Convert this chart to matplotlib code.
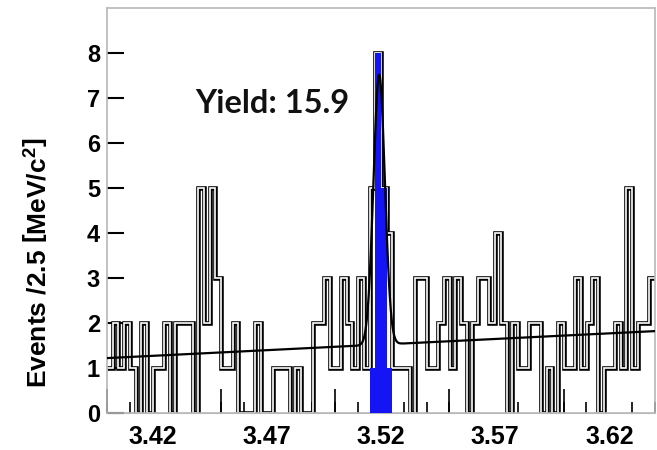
import numpy as np
import matplotlib
matplotlib.use("Agg")
import matplotlib.pyplot as plt

plt.rcParams['font.family'] = ['Liberation Sans', 'DejaVu Sans']
plt.rcParams['font.weight'] = 'bold'
plt.rcParams['mathtext.fontset'] = 'custom'
plt.rcParams['mathtext.rm'] = 'Liberation Sans:bold'
plt.rcParams['mathtext.it'] = 'Liberation Sans:bold'
plt.rcParams['mathtext.bf'] = 'Liberation Sans:bold'

# histogram: 2.5 MeV bins from 3.40 to 3.64 GeV
bin_lo = 3.40
bin_w = 0.0025
counts = [1, 2, 1, 2, 1, 0, 2, 0, 1, 1,
          2, 0, 2, 2, 2, 0, 5, 2, 5, 3,
          1, 1, 2, 0, 0, 0, 2, 0, 0, 1,
          1, 1, 0, 1, 0, 0, 2, 2, 3, 1,
          1, 3, 2, 1, 3, 1, 5, 8, 5, 4,
          1, 1, 1, 0, 3, 3, 1, 1, 2, 3,
          1, 3, 2, 0, 2, 3, 3, 2, 4, 2,
          0, 2, 1, 1, 2, 2, 0, 1, 0, 2,
          1, 1, 3, 1, 2, 3, 0, 1, 1, 2,
          1, 5, 1, 2, 2, 3]

# signal-region histogram (blue)
signal_first_bin = 46
signal_counts = [1, 8, 5, 1]

# fit: linear background + gaussian peak
bkg_at_lo = 1.22
bkg_slope = 2.5
peak_amp = 6.0
peak_mean = 3.5192
peak_sigma = 0.0025

yield_text = "Yield: 15.9"
xtick_vals = [3.42, 3.47, 3.52, 3.57, 3.62]
xtick_labels = ["3.42", "3.47", "3.52", "3.57", "3.62"]
ytick_vals = list(range(0, 9))

edges = bin_lo + bin_w * np.arange(len(counts) + 1)
sig_edges = edges[signal_first_bin:signal_first_bin + len(signal_counts) + 1]

fig = plt.figure(figsize=(6.57, 4.5), dpi=100)
ax = fig.add_axes([107 / 657, 37 / 450, 548 / 657, 405 / 450])

# hollow-looking outline: thick black with thin white core
ax.stairs(counts, edges, color='black', lw=3.3, baseline=None, zorder=2)
ax.stairs(counts, edges, color='white', lw=1.2, baseline=None, zorder=2.5)
ax.stairs(signal_counts, sig_edges, fill=True, color='#1414f5', zorder=3)

xf = np.linspace(edges[0], edges[-1], 1500)
fit = bkg_at_lo + bkg_slope * (xf - bin_lo) + \
    peak_amp * np.exp(-0.5 * ((xf - peak_mean) / peak_sigma) ** 2)
ax.plot(xf, fit, color='black', lw=1.6, zorder=4)

ax.set_xlim(edges[0], edges[-1])
ax.set_ylim(0, 9)

gray = '#b8b8b8'
for s in ax.spines.values():
    s.set_color(gray)
    s.set_linewidth(1.2)

ax.set_yticks(ytick_vals)
ax.tick_params(axis='y', direction='in', length=12, width=1.5, color='black',
               labelsize=17, pad=5)

ax.set_xticks(xtick_vals, xtick_labels)
ax.tick_params(axis='x', which='major', length=0, labelsize=18, pad=9)
ax.set_xticks(np.arange(3.40, 3.6401, 0.01), minor=True)
ax.tick_params(axis='x', which='minor', direction='in', length=8, width=1.2,
               color='black')

sec = ax.secondary_xaxis('bottom')
sec.set_xticks(np.arange(3.40, 3.6401, 0.05))
sec.tick_params(direction='in', length=17, width=1.2, color='black',
                labelbottom=False)
sec.spines['bottom'].set_color(gray)

ax.set_ylabel(r"Events /2.5 $\left[\mathrm{MeV/c^{2}}\right]$", fontsize=19,
              fontweight='bold')
ax.yaxis.set_label_coords(-0.102, 0.37)

ax.text(88 / 548, 300 / 405, yield_text, transform=ax.transAxes,
        fontsize=23.5, fontweight='bold', family=['Lato', 'DejaVu Sans'],
        va='baseline', ha='left', color='#111111', zorder=5)

fig.savefig("out.png", dpi=100)
